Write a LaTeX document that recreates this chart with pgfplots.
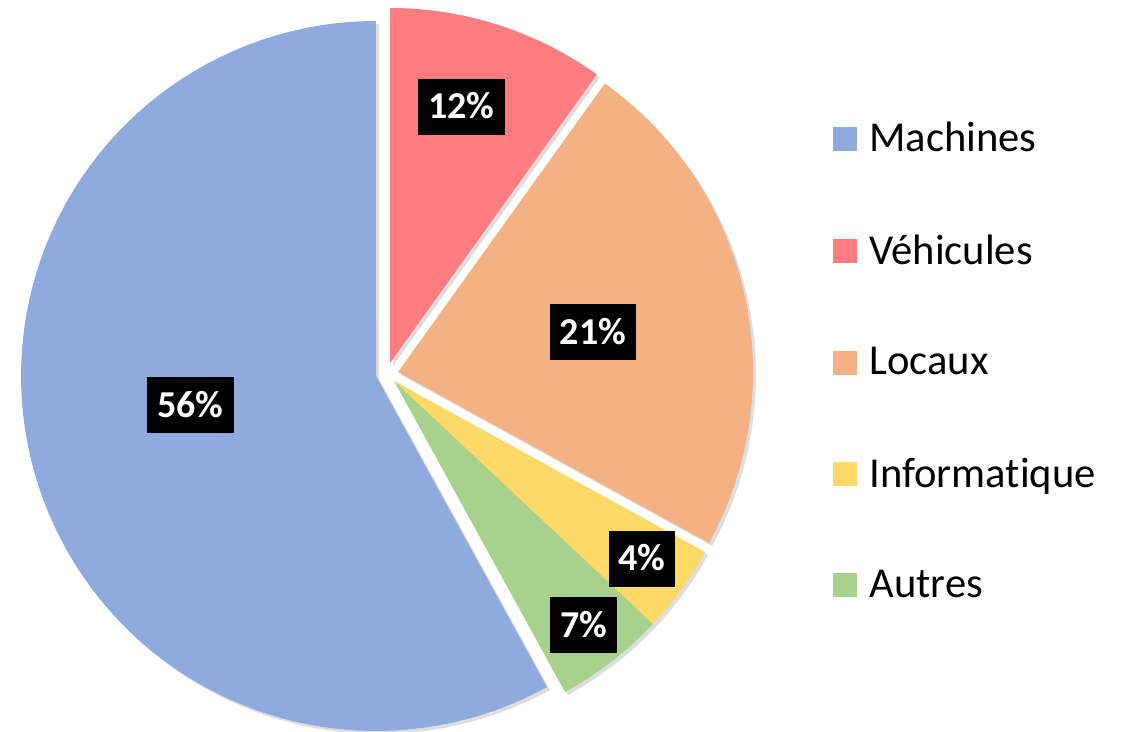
\documentclass[border=0pt]{standalone}
\usepackage{fontspec}
\setmainfont{Carlito}[Ligatures=NoCommon]
\usepackage{pgfplots}
\pgfplotsset{compat=1.18}
\definecolor{cM}{HTML}{8FAADC}
\definecolor{cV}{HTML}{FF7C80}
\definecolor{cL}{HTML}{F4B183}
\definecolor{cI}{HTML}{FFD966}
\definecolor{cA}{HTML}{A9D18E}
% shares of the circle (percent), and slice vertex (px)
\def\R{355}
% Vehicules, Locaux, Informatique, Autres, Machines (clockwise from 12 o'clock)
\def\sV{9.9}\def\sL{23.1}\def\sI{4.0}\def\sA{5.0}\def\sM{58.0}
\pgfmathsetmacro{\aV}{0}
\pgfmathsetmacro{\bV}{\aV+3.6*\sV}
\pgfmathsetmacro{\bL}{\bV+3.6*\sL}
\pgfmathsetmacro{\bI}{\bL+3.6*\sI}
\pgfmathsetmacro{\bA}{\bI+3.6*\sA}
\pgfmathsetmacro{\bM}{\bA+3.6*\sM}
\newcommand{\slice}[5]{% color, from, to, cx, cy
  \addplot[draw=none, fill=black, opacity=0.13, forget plot, domain=#2:#3, samples=90, variable=\t]
    ({#4+3+\R*sin(\t)},{#5-3+\R*cos(\t)}) -- (axis cs:#4+3,#5-3) -- cycle;
  \addplot[draw=none, fill=#1, domain=#2:#3, samples=90, variable=\t]
    ({#4+\R*sin(\t)},{#5+\R*cos(\t)}) -- (axis cs:#4,#5) -- cycle;
}
\begin{document}
\begin{tikzpicture}
\useasboundingbox (0,0) rectangle (562pt,366pt);
\begin{axis}[at={(0,0)}, anchor=south west,
  width=562pt, height=366pt, scale only axis,
  xmin=0, xmax=1124, ymin=0, ymax=732,
  hide axis, clip=false,
  legend cell align=left,
  legend image code/.code={\fill[#1] (0pt,-6pt) rectangle (12pt,6pt);},
  legend style={at={(axis cs:833,622)}, anchor=north west, draw=none, fill=none,
    font=\fontsize{21.3}{25}\selectfont, row sep=28pt, inner sep=0pt,
    nodes={inner sep=6pt}},
]
\slice{cM}{\bA}{\bM}{376}{356}
\addlegendentry{Machines}
\slice{cV}{\aV}{\bV}{390}{369}
\addlegendentry{Véhicules}
\slice{cL}{\bV}{\bL}{398}{360}
\addlegendentry{Locaux}
\slice{cI}{\bL}{\bI}{394}{351}
\addlegendentry{Informatique}
\slice{cA}{\bI}{\bA}{394}{351}
\addlegendentry{Autres}
\tikzset{lab/.style={fill=black, text=white, font=\bfseries\fontsize{19}{23}\selectfont,
  inner xsep=5pt, inner ysep=0pt, text height=12pt, text depth=0pt, minimum height=28pt}}
\node[lab] at (axis cs:461.5,625) {12\%};
\node[lab] at (axis cs:593,399.5) {21\%};
\node[lab] at (axis cs:642,173) {4\%};
\node[lab] at (axis cs:583.5,106.5) {7\%};
\node[lab] at (axis cs:190.5,326.5) {56\%};
\end{axis}
\end{tikzpicture}
\end{document}
